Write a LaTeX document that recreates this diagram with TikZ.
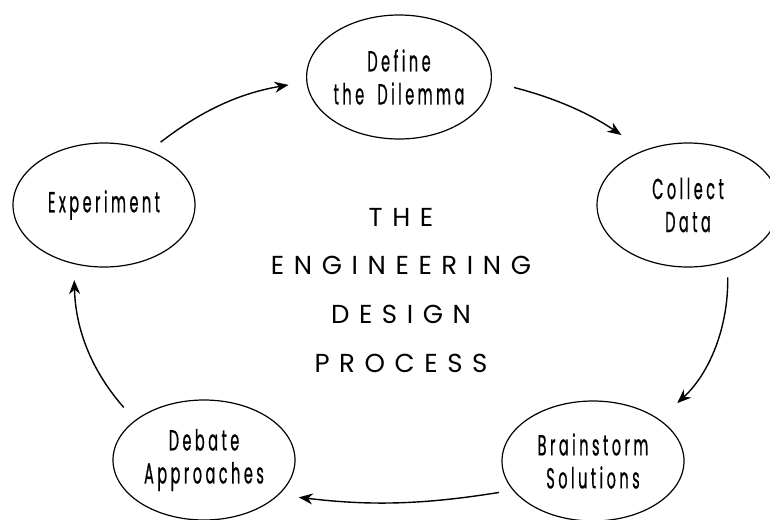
\documentclass[tikz,border=0pt]{standalone}
\usepackage{fontspec}
\setmainfont{Poppins}
\newfontfamily\labfont[FakeStretch=0.5,LetterSpace=12,FakeBold=0.6,WordSpace=1.8]{Poppins}
\newfontfamily\titfont[LetterSpace=37]{Poppins}
\usetikzlibrary{shapes.geometric,arrows.meta}
\begin{document}
\begin{tikzpicture}[x=1pt,y=-1pt,
  stage/.style={draw,ellipse,inner sep=0pt,line width=1.2pt,align=center,
    minimum width=182pt,minimum height=124pt,
    font=\labfont\fontsize{29}{33}\selectfont},
  flow/.style={-{Stealth[length=14pt,width=11pt]},line width=1.4pt},
  title/.style={font=\titfont\fontsize{26}{26}\selectfont,inner sep=0pt}]
\useasboundingbox (0,0) rectangle (770,519);
\node[stage] (def) at (399,77) {Define\\the Dilemma};
\node[stage] (col) at (688,205) {Collect\\Data};
\node[stage] (exp) at (104,205) {Experiment};
\node[stage,minimum height=120pt] (deb) at (204,460) {Debate\\Approaches};
\node[stage,minimum height=120pt] (bra) at (593,461) {Brainstorm\\Solutions};
\node[title] (t1) at (401,217) {THE};
\node[title] (t2) at (401,265) {ENGINEERING};
\node[title] (t3) at (401,314) {DESIGN};
\node[title] (t4) at (401,363) {PROCESS};
\draw[flow,shorten <=14pt,shorten >=18pt] (exp.50) to[bend left=14] (def.183);
\draw[flow,shorten <=23pt,shorten >=27pt] (def.-3) to[bend left=10] (col.129);
\draw[flow,shorten <=16pt,shorten >=24pt] (col.-55) to[bend left=24] (bra.32);
\draw[flow,shorten <=14pt,shorten >=20pt] (bra.200) to[bend left=8] (deb.-25);
\draw[flow,shorten <=17pt,shorten >=16pt] (deb.150) to[bend left=20] (exp.-117);
\end{tikzpicture}
\end{document}
